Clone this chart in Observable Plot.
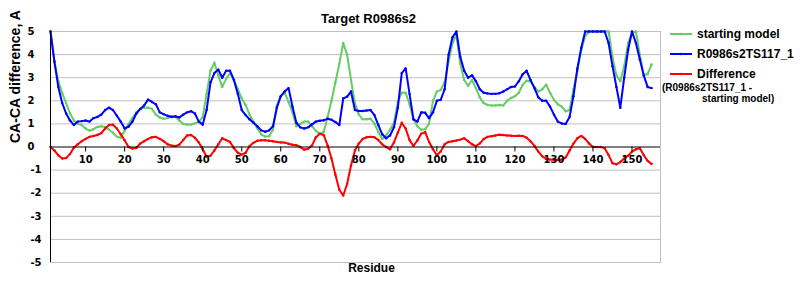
<!DOCTYPE html>
<html>
<head>
<meta charset="utf-8">
<script src="https://cdn.jsdelivr.net/npm/d3@7"></script>
<script src="https://cdn.jsdelivr.net/npm/@observablehq/plot@0.6"></script>
<style>
  html, body { margin: 0; padding: 0; background: #fff; }
  #wrap { position: relative; width: 800px; height: 300px; }
  .leg { position: absolute; font-family: "Liberation Sans", Arial, sans-serif; font-weight: bold; color: #000; white-space: nowrap; }
  .leg svg { position: absolute; left: 0; top: 0; overflow: visible; }
</style>
</head>
<body>
<div id="wrap"></div>
<script>
// ---- data ----
const title = "Target R0986s2";
const yLabel = "CA-CA difference, A";
const xLabel = "Residue";
const seriesNames = ["starting model", "R0986s2TS117_1", "Difference"];
const diffNote = ["(R0986s2TS117_1 -", "starting model)"];
const xTicks = [10, 20, 30, 40, 50, 60, 70, 80, 90, 100, 110, 120, 130, 140, 150];
const yTicks = [-5, -4, -3, -2, -1, 0, 1, 2, 3, 4, 5];
const firstResidue = 1;

const startingModel = [
  5.0, 3.7, 2.85, 2.33, 1.9, 1.45, 1.15, 1.0, 0.95, 0.8,
  0.71, 0.77, 0.87, 0.9, 0.87, 0.75, 0.62, 0.45, 0.4, 0.7,
  1.0, 1.25, 1.5, 1.65, 1.7, 1.7, 1.65, 1.4, 1.28, 1.22,
  1.25, 1.33, 1.3, 1.15, 1.0, 0.97, 0.97, 1.03, 1.08, 1.3,
  2.3, 3.3, 3.65, 3.1, 2.6, 2.95, 3.2, 2.9, 2.5, 2.1,
  1.82, 1.4, 1.1, 0.8, 0.55, 0.45, 0.47, 0.75, 1.8, 2.2,
  2.35, 1.95, 1.5, 0.9, 1.0, 1.1, 1.1, 0.9, 0.7, 0.58,
  0.65, 1.3, 2.0, 2.8, 3.6, 4.5, 4.0, 2.9, 1.9, 1.4,
  1.2, 1.2, 1.22, 1.02, 0.65, 0.35, 0.5, 0.75, 1.05, 1.95,
  2.35, 2.35, 1.85, 1.2, 0.9, 0.75, 0.77, 1.0, 2.0, 2.4,
  2.47, 2.8, 3.7, 4.5, 4.85, 3.6, 2.9, 2.65, 2.9, 2.55,
  2.15, 1.9, 1.82, 1.8, 1.8, 1.82, 1.8, 2.0, 2.12, 2.2,
  2.35, 2.7, 2.87, 2.84, 2.6, 2.4, 2.5, 2.7, 2.35, 2.04,
  1.85, 1.75, 1.55, 1.6, 2.5, 3.3, 4.2, 4.8, 5.0, 5.0,
  5.0, 5.0, 5.0, 5.0, 3.9, 3.1, 2.85, 3.5, 4.5, 4.95,
  5.0, 4.0, 3.13, 3.15, 3.57
];
const model = [
  5.0, 3.7, 2.6, 1.9, 1.45, 1.15, 0.95, 1.1, 1.12, 1.15,
  1.1, 1.25, 1.3, 1.4, 1.6, 1.7, 1.6, 1.35, 1.1, 0.8,
  0.88, 1.1, 1.45, 1.65, 1.8, 2.05, 1.95, 1.85, 1.5, 1.42,
  1.35, 1.3, 1.33, 1.28, 1.4, 1.5, 1.55, 1.45, 1.1, 0.97,
  1.6, 2.8, 3.2, 3.35, 3.0, 3.3, 3.3, 2.9, 2.3, 1.6,
  1.38, 1.2, 1.05, 0.9, 0.72, 0.66, 0.72, 0.9, 1.7, 2.2,
  2.4, 2.55, 1.75, 1.05, 0.85, 0.8, 0.85, 0.98, 1.1, 1.14,
  1.16, 1.22, 1.18, 1.08, 0.95, 2.1, 2.18, 2.4, 1.6, 1.56,
  1.56, 1.58, 1.6, 1.38, 0.95, 0.55, 0.38, 0.5, 0.85, 1.7,
  3.2, 3.4, 2.3, 1.2, 1.1, 1.5, 1.48, 1.25, 1.5, 2.0,
  2.05, 2.5, 4.0, 4.75, 5.0, 3.9, 3.3, 3.0, 3.1, 2.85,
  2.5, 2.35, 2.32, 2.3, 2.3, 2.33, 2.4, 2.5, 2.6, 2.62,
  2.85, 3.15, 3.3, 2.9, 2.55, 2.15, 2.0, 2.0, 1.75, 1.4,
  1.1, 1.02, 1.0, 1.3, 2.2, 3.4, 4.3, 5.0, 5.0, 5.0,
  5.0, 5.0, 5.0, 4.5, 3.5, 2.6, 1.7, 3.0, 4.2, 5.0,
  4.5, 3.8, 3.1, 2.6, 2.55
];
const difference = [
  0.0, -0.15, -0.36, -0.5, -0.48, -0.3, -0.02, 0.12, 0.25, 0.35,
  0.44, 0.48, 0.52, 0.6, 0.8, 0.95, 0.97, 0.8, 0.55, 0.29,
  0.0, -0.07, -0.04, 0.15, 0.25, 0.35, 0.42, 0.44, 0.35, 0.25,
  0.12, 0.06, 0.04, 0.1, 0.3, 0.5, 0.52, 0.4, 0.2, -0.1,
  -0.42, -0.38, -0.15, 0.12, 0.38, 0.3, 0.22, -0.05, -0.25, -0.33,
  -0.25, 0.04, 0.18, 0.27, 0.29, 0.29, 0.27, 0.25, 0.22, 0.2,
  0.19, 0.14, 0.1, 0.08, 0.0, -0.12, -0.08, 0.07, 0.42, 0.57,
  0.52, 0.07, -0.5, -1.2, -1.85, -2.1, -1.6, -0.8, -0.15, 0.15,
  0.35, 0.42, 0.44, 0.42, 0.3, 0.12, 0.0, -0.1, 0.2, 0.62,
  1.05, 0.8, 0.3, 0.05, 0.28, 0.58, 0.64, 0.22, -0.1, -0.36,
  -0.19, 0.12, 0.22, 0.25, 0.28, 0.32, 0.38, 0.25, 0.12, 0.04,
  0.15, 0.35, 0.44, 0.47, 0.5, 0.53, 0.52, 0.5, 0.49, 0.48,
  0.49, 0.48, 0.4, 0.25, 0.05, -0.2, -0.4, -0.52, -0.54, -0.55,
  -0.55, -0.55, -0.45, -0.15, 0.15, 0.38, 0.48, 0.35, 0.15, 0.0,
  0.0, 0.0, -0.05, -0.35, -0.7, -0.75, -0.65, -0.5, -0.38, -0.2,
  -0.1, -0.05, -0.35, -0.6, -0.73
];
const colors = ["#66cc66", "#0000ff", "#ff0000"];

// ---- build ----
const residues = startingModel.map((_, i) => firstResidue + i);
const xMax = 157.3;
const mk = (vals) => vals.map((v, i) => ({r: residues[i], v}));
const series = [mk(startingModel), mk(model), mk(difference)];

const tickFont = "DejaVu Sans, Verdana, sans-serif";
const labFont = "Liberation Sans, Arial, sans-serif";

const lineMarks = series.flatMap((s, k) => [
  Plot.line(s, {x: "r", y: "v", stroke: colors[k], strokeWidth: 2}),
  Plot.dot(s, {x: "r", y: "v", r: 1.2, fill: colors[k], stroke: "none"})
]);

const chart = Plot.plot({
  width: 800,
  height: 300,
  marginLeft: 50,
  marginRight: 140,
  marginTop: 31,
  marginBottom: 38,
  style: {background: "white", fontFamily: tickFont, fontWeight: "bold", fontSize: "10px", color: "black"},
  x: {domain: [firstResidue, xMax], axis: null},
  y: {domain: [yTicks[0], yTicks[yTicks.length - 1]], axis: null},
  marks: [
    Plot.frame({stroke: "#c0c0c0"}),
    Plot.ruleY(yTicks.filter(d => d !== 0), {y: d => d, stroke: "#c0c0c0"}),
    ...lineMarks,
    Plot.ruleY([0], {y: d => d, stroke: "black"}),
    Plot.ruleX([firstResidue], {x: d => d, stroke: "black"}),
    Plot.ruleX(xTicks, {x: d => d, y1: 0, y2: 0, insetBottom: -5, stroke: "black"}),
    Plot.text(xTicks, {x: d => d, y: 0, dy: 13, text: d => String(d), fontFamily: tickFont, fontWeight: "bold", fontSize: 10}),
    Plot.text(yTicks, {x: firstResidue, y: d => d, dx: -9, textAnchor: "end",
      text: d => d < 0 ? String(d) : String(d) + "\u2007", fontFamily: tickFont, fontWeight: "bold", fontSize: 10}),
    Plot.text([yLabel], {frameAnchor: "left", dx: -35, dy: -4, rotate: -90, text: d => d,
      fontFamily: labFont, fontWeight: "bold", fontSize: 14}),
    Plot.text([xLabel], {frameAnchor: "bottom", dx: 16, dy: 9, text: d => d,
      fontFamily: labFont, fontWeight: "bold", fontSize: 12}),
    Plot.text([title], {frameAnchor: "top", dx: 13, dy: -18, text: d => d,
      fontFamily: labFont, fontWeight: "bold", fontSize: 13})
  ]
});

const wrap = document.getElementById("wrap");
wrap.appendChild(chart);

// ---- legend ----
const legRows = [34, 54, 74];
seriesNames.forEach((name, k) => {
  const d = document.createElement("div");
  d.className = "leg";
  d.style.left = "670px";
  d.style.top = (legRows[k] - 8) + "px";
  d.style.fontSize = "12px";
  d.style.lineHeight = "16px";
  d.innerHTML = `<svg width="24" height="16"><line x1="0" x2="22" y1="8" y2="8" stroke="${colors[k]}" stroke-width="2"/><circle cx="11" cy="8" r="1.3" fill="${colors[k]}"/></svg><span style="margin-left:27px">${name}</span>`;
  wrap.appendChild(d);
});
const note1 = document.createElement("div");
note1.className = "leg";
note1.style.left = "662px"; note1.style.top = "82px";
note1.style.fontSize = "10px"; note1.style.lineHeight = "11px";
note1.textContent = diffNote[0];
wrap.appendChild(note1);
const note2 = document.createElement("div");
note2.className = "leg";
note2.style.left = "702px"; note2.style.top = "93px";
note2.style.fontSize = "10px"; note2.style.lineHeight = "11px";
note2.textContent = diffNote[1];
wrap.appendChild(note2);
</script>
</body>
</html>
